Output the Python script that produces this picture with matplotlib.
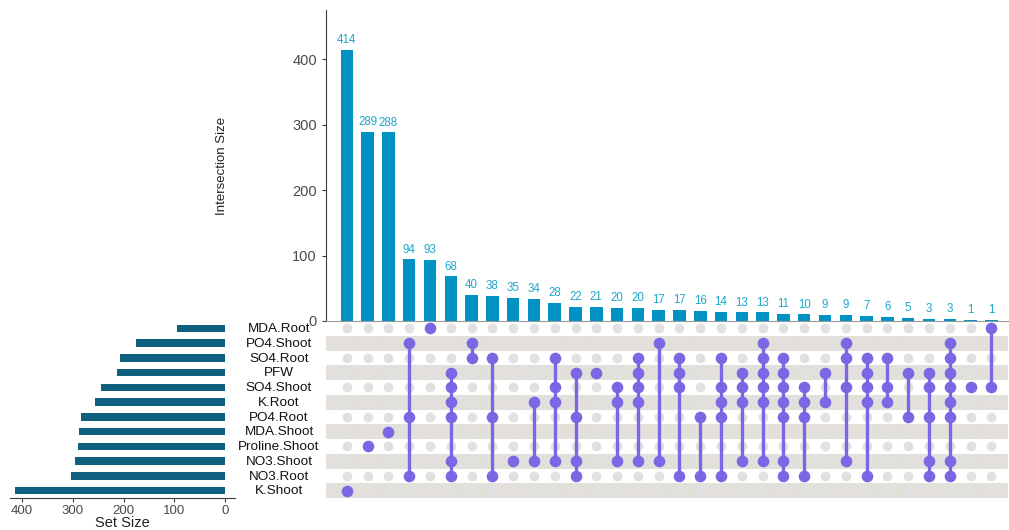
import matplotlib
matplotlib.use("Agg")
import matplotlib.pyplot as plt
import matplotlib.transforms as mtransforms
import numpy as np

plt.rcParams['font.family'] = ['Liberation Sans', 'DejaVu Sans']

# Sets, listed top to bottom in the matrix
set_names = ["MDA.Root", "PO4.Shoot", "SO4.Root", "PFW", "SO4.Shoot", "K.Root",
             "PO4.Root", "MDA.Shoot", "Proline.Shoot", "NO3.Shoot", "NO3.Root", "K.Shoot"]
set_sizes = [94, 176, 206, 212, 244, 256, 284, 288, 289, 296, 303, 414]

# Intersection sizes, in decreasing order
intersection_sizes = [414, 289, 288, 94, 93, 68, 40, 38, 35, 34, 28, 22, 21, 20, 20,
                      17, 17, 16, 14, 13, 13, 11, 10, 9, 9, 7, 6, 5, 3, 3, 1, 1]

# Members of each intersection
intersection_members = [
    ["K.Shoot"],
    ["Proline.Shoot"],
    ["MDA.Shoot"],
    ["PO4.Shoot", "PO4.Root", "NO3.Root"],
    ["MDA.Root"],
    ["PFW", "SO4.Shoot", "K.Root", "PO4.Root", "NO3.Shoot", "NO3.Root"],
    ["PO4.Shoot", "SO4.Root"],
    ["SO4.Root", "PO4.Root", "NO3.Root"],
    ["NO3.Shoot"],
    ["K.Root", "NO3.Shoot"],
    ["SO4.Root", "SO4.Shoot", "K.Root", "NO3.Shoot"],
    ["PFW", "PO4.Root", "NO3.Shoot", "NO3.Root"],
    ["PFW"],
    ["SO4.Shoot", "K.Root", "NO3.Shoot"],
    ["SO4.Root", "PFW", "SO4.Shoot", "K.Root", "NO3.Shoot"],
    ["PO4.Shoot", "NO3.Shoot"],
    ["SO4.Root", "PFW", "SO4.Shoot", "NO3.Root"],
    ["PO4.Root", "NO3.Root"],
    ["SO4.Root", "SO4.Shoot", "K.Root", "PO4.Root", "NO3.Root"],
    ["PFW", "SO4.Shoot", "K.Root", "NO3.Shoot"],
    ["PO4.Shoot", "SO4.Root", "PFW", "SO4.Shoot", "K.Root", "NO3.Shoot"],
    ["SO4.Root", "PFW", "SO4.Shoot", "K.Root", "PO4.Root", "NO3.Shoot", "NO3.Root"],
    ["SO4.Shoot", "K.Root", "PO4.Root", "NO3.Root"],
    ["PFW", "K.Root"],
    ["PO4.Shoot", "SO4.Root", "SO4.Shoot", "NO3.Shoot"],
    ["SO4.Root", "PFW", "SO4.Shoot", "K.Root", "NO3.Root"],
    ["SO4.Root", "SO4.Shoot", "K.Root"],
    ["PFW", "PO4.Root"],
    ["PFW", "SO4.Shoot", "PO4.Root", "NO3.Shoot", "NO3.Root"],
    ["PO4.Shoot", "SO4.Root", "PFW", "SO4.Shoot", "K.Root", "PO4.Root", "NO3.Shoot", "NO3.Root"],
    ["SO4.Shoot"],
    ["MDA.Root", "SO4.Shoot"],
]

bar_color = "#0092c2"
label_color = "#1aa8c9"
set_bar_color = "#0f5f7e"
dot_on = "#7a67e4"
dot_off = "#e1e1e1"
stripe = "#e3dfda"
axis_gray = "#3a3a3a"
tick_gray = "#4a4a4a"

W, H = 1009, 530
fig = plt.figure(figsize=(W / 100, H / 100), dpi=100)

def frac(x0, y0, x1, y1):
    return [x0 / W, 1 - y1 / H, (x1 - x0) / W, (y1 - y0) / H]

n_int = len(intersection_sizes)
n_sets = len(set_names)
xs = np.arange(n_int)
xlim = (-1.0, 31.8)

# Intersection size bars
ax_bar = fig.add_axes(frac(326, 10, 1008, 321))
ax_bar.bar(xs, intersection_sizes, width=0.6, color=bar_color)
for x, v in zip(xs, intersection_sizes):
    ax_bar.text(x, v + 6, str(v), ha="center", va="bottom", fontsize=8.3, color=label_color)
ax_bar.set_xlim(*xlim)
ax_bar.set_ylim(0, 475)
ax_bar.set_yticks([0, 100, 200, 300, 400])
ax_bar.set_xticks([])
for s in ["top", "right"]:
    ax_bar.spines[s].set_visible(False)
ax_bar.spines["left"].set_color(axis_gray)
ax_bar.spines["bottom"].set_color("#9a9a9a")
ax_bar.tick_params(axis="y", labelsize=10.5, colors=tick_gray, length=3, color=axis_gray)
ax_bar.yaxis.set_label_coords(-98 / 682, 0.48)
ax_bar.set_ylabel("Intersection Size", fontsize=9.5, color="#222222")

# Membership matrix
ax_m = fig.add_axes(frac(326, 321, 1008, 498))
ax_m.set_xlim(*xlim)
ax_m.set_ylim(n_sets - 0.5, -0.5)
for r in range(n_sets):
    if r % 2 == 1:
        ax_m.axhspan(r - 0.5, r + 0.5, color=stripe, lw=0, zorder=0)
gx, gy = np.meshgrid(xs, np.arange(n_sets))
ax_m.scatter(gx.ravel(), gy.ravel(), s=50, color=dot_off, lw=0, zorder=1)
for x, members in zip(xs, intersection_members):
    rows = sorted(set_names.index(m) for m in members)
    if len(rows) > 1:
        ax_m.plot([x, x], [rows[0], rows[-1]], color=dot_on, lw=2.4, zorder=2,
                  solid_capstyle="butt")
    ax_m.scatter([x] * len(rows), rows, s=70, color=dot_on, lw=0, zorder=3)
ax_m.axis("off")

# Set labels between the two panels
trans = mtransforms.blended_transform_factory(fig.transFigure, ax_m.transData)
for r, name in enumerate(set_names):
    ax_m.text(279 / W, r + 0.05, name, transform=trans, ha="center", va="center",
              fontsize=9.7, color="#111111")

# Set size bars
ax_s = fig.add_axes(frac(10, 321, 235, 498))
ax_s.barh(np.arange(n_sets), set_sizes, height=0.5, color=set_bar_color)
ax_s.set_ylim(n_sets - 0.5, -0.5)
ax_s.set_xlim(424, -20)
ax_s.set_xticks([400, 300, 200, 100, 0])
ax_s.set_yticks([])
for s in ["top", "right", "left"]:
    ax_s.spines[s].set_visible(False)
ax_s.spines["bottom"].set_color(axis_gray)
ax_s.tick_params(axis="x", labelsize=9.5, colors=tick_gray, length=3, color=axis_gray, pad=2)
ax_s.xaxis.set_label_coords(0.5, -0.143)
ax_s.set_xlabel("Set Size", fontsize=10.5, color="#222222", va="center")

fig.savefig("out.png", dpi=100)
